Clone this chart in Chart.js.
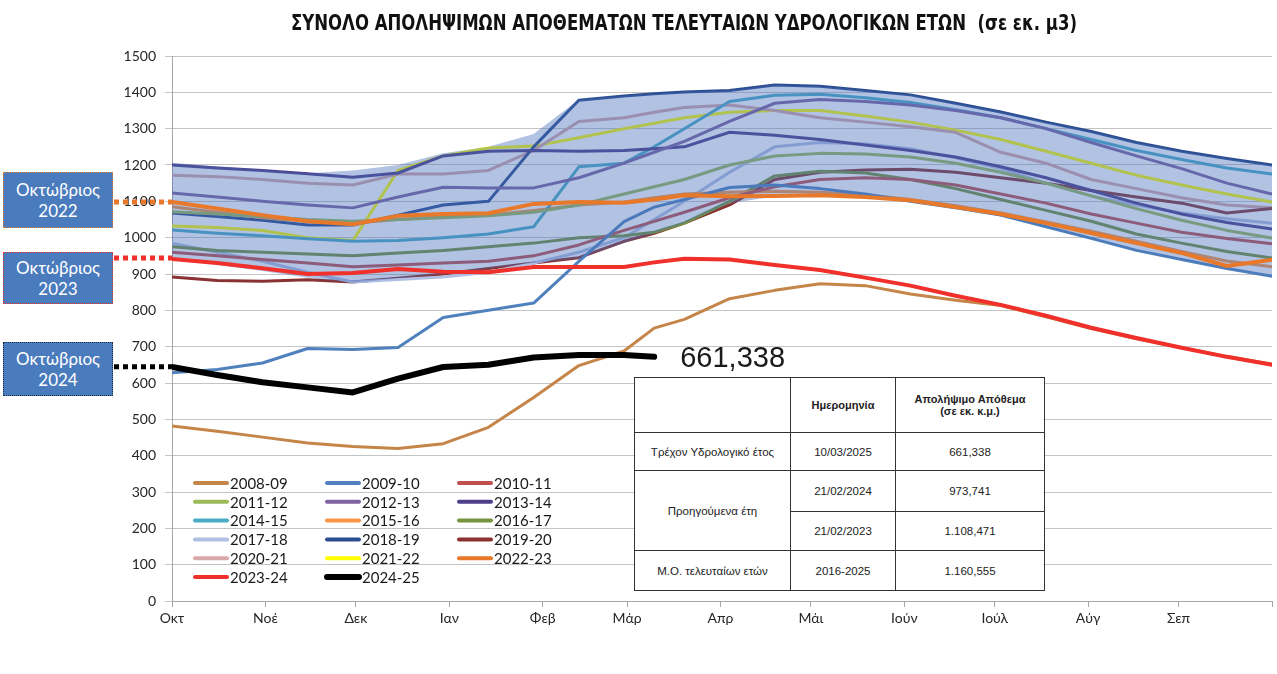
<!DOCTYPE html>
<html><head><meta charset="utf-8">
<script src="https://cdn.jsdelivr.net/npm/chart.js@4.4.1/dist/chart.umd.min.js"></script>
<style>
html,body{margin:0;padding:0;background:#fff;}
#wrap{position:relative;width:1277px;height:674px;overflow:hidden;background:#fff;}
#c{position:absolute;left:0;top:0;}
.box{position:absolute;left:3px;width:110px;background:#4a7bbd;color:#fff;font-family:Lato,'Open Sans',sans-serif;font-size:17px;line-height:21px;text-align:center;box-sizing:border-box;display:flex;align-items:center;justify-content:center;border:1px dotted;}
table.info{position:absolute;left:634px;top:377px;border-collapse:collapse;background:#fff;font-family:'Liberation Sans',Arial,sans-serif;font-size:11.5px;color:#222;table-layout:fixed;}
table.info td{border:1.5px solid #333;text-align:center;padding:0;vertical-align:middle;}
table.info td.h{font-weight:bold;font-size:11px;}
</style></head>
<body>
<div id="wrap">
<canvas id="c" width="1277" height="674"></canvas>
<div class="box" style="top:172px;height:56px;border-color:#e8782a;">Οκτώβριος<br>2022</div>
<div class="box" style="top:252px;height:52px;border-color:#f0302a;">Οκτώβριος<br>2023</div>
<div class="box" style="top:342px;height:54px;border-color:#1a2a4a;">Οκτώβριος<br>2024</div>
<table class="info" id="tbl"></table>
</div>
<script>
// ---------- DATA ----------
const DAYS = [0,15,30,45,60,75,90,105,120,135,150,160,170,185,200,215,230,245,260,275,290,305,320,335,350,365];
const MONTH_DAYS = [0,31,61,92,123,151,182,212,243,273,304,334,365];
const MONTH_LABELS = ['Οκτ','Νοέ','Δεκ','Ιαν','Φεβ','Μάρ','Απρ','Μάι','Ιούν','Ιούλ','Αύγ','Σεπ',''];

const s2008_09 = [482,467,451,435,425,420,433,478,560,648,688,751,775,832,855,873,868,845,828,813,782,750,722,697,673,652];
const s2009_10 = [628,637,655,695,692,698,780,800,820,935,1044,1084,1105,1138,1145,1135,1120,1100,1082,1062,1030,998,965,940,915,894];
const s2010_11 = [960,950,940,930,920,925,930,935,950,980,1020,1045,1070,1110,1140,1160,1165,1160,1145,1120,1095,1065,1040,1015,998,983];
const s2011_12 = [1071,1065,1058,1050,1045,1050,1055,1060,1070,1090,1120,1140,1160,1200,1225,1232,1230,1222,1205,1180,1150,1115,1080,1048,1020,999];
const s2012_13 = [1123,1112,1100,1090,1082,1112,1139,1137,1137,1165,1205,1235,1265,1320,1370,1380,1375,1365,1350,1330,1300,1262,1225,1190,1150,1120];
const s2013_14 = [1200,1192,1185,1176,1166,1178,1225,1238,1240,1238,1240,1245,1250,1290,1282,1270,1255,1240,1222,1195,1165,1130,1095,1065,1042,1024];
const s2014_15 = [1021,1012,1005,997,990,992,1000,1010,1030,1195,1205,1250,1300,1375,1392,1395,1385,1372,1352,1330,1300,1270,1240,1215,1192,1175];
const s2015_16 = [1085,1070,1055,1045,1040,1050,1058,1062,1075,1090,1098,1110,1120,1125,1128,1125,1118,1105,1088,1068,1043,1018,990,962,936,920];
const s2016_17 = [975,965,960,955,950,958,965,975,985,1000,1005,1015,1040,1100,1170,1183,1178,1160,1135,1105,1075,1045,1010,985,962,944];
const s2017_18 = [985,960,935,905,878,885,892,905,930,960,1000,1050,1100,1180,1250,1262,1258,1245,1220,1190,1150,1115,1090,1068,1052,1040];
const s2018_19 = [1068,1058,1048,1035,1035,1062,1090,1100,1250,1378,1390,1396,1401,1405,1420,1417,1405,1393,1370,1346,1318,1292,1262,1238,1218,1200];
const s2019_20 = [892,882,880,884,878,888,900,915,930,945,990,1012,1040,1090,1160,1180,1186,1188,1180,1165,1150,1130,1112,1095,1068,1080];
const s2020_21 = [1172,1168,1160,1150,1145,1175,1175,1185,1240,1320,1330,1345,1358,1365,1350,1330,1318,1305,1290,1235,1205,1160,1135,1110,1090,1082];
const s2021_22 = [1032,1028,1020,1000,992,1185,1225,1247,1252,1275,1300,1315,1330,1345,1350,1350,1335,1318,1296,1270,1238,1205,1172,1145,1120,1098];
const s2022_23 = [1098,1080,1062,1045,1037,1060,1065,1067,1093,1098,1096,1105,1117,1114,1115,1117,1112,1103,1084,1065,1040,1013,985,958,922,939];
const s2023_24 = [941,930,916,900,903,914,906,905,919,919,919,932,942,940,925,911,890,868,840,815,785,752,724,697,672,650];
const s2024_25 = [644,622,602,588,574,612,644,650,670,677,677,672,null,null,null,null,null,null,null,null,null,null,null,null,null,null];

const bandUpper = [1206,1196,1187,1177,1185,1200,1232,1250,1285,1380,1390,1396,1401,1405,1420,1417,1405,1393,1370,1346,1318,1292,1262,1238,1218,1200];
const bandLower = [941,925,908,890,876,888,900,915,930,943,985,1012,1040,1095,1113,1115,1110,1098,1082,1058,1030,997,965,940,915,894];

const octLabels = ['Οκτώβριος 2022','Οκτώβριος 2023','Οκτώβριος 2024'];
const octValues = [1098, 944, 645];

const currentValueLabel = '661,338';

const tblRowLabels = ['Τρέχον Υδρολογικό έτος','Προηγούμενα έτη','','Μ.Ο.  τελευταίων ετών'];
const tblDates = ['10/03/2025','21/02/2024','21/02/2023','2016-2025'];
const tblValues = ['661,338','973,741','1.108,471','1.160,555'];

// ---------- STYLES ----------
// [label, data, colour, width, draw order (lower = on top)]
const SERIES = [
  ['2008-09', s2008_09, '#c58548', 3, 4],
  ['2009-10', s2009_10, '#4f81bd', 3, 60],
  ['2010-11', s2010_11, '#c0504d', 3, 60],
  ['2011-12', s2011_12, '#9bbb59', 3, 60],
  ['2012-13', s2012_13, '#8064a2', 3, 60],
  ['2013-14', s2013_14, '#4f3f8a', 3, 60],
  ['2014-15', s2014_15, '#4bacc6', 3, 60],
  ['2015-16', s2015_16, '#f79646', 3, 60],
  ['2016-17', s2016_17, '#77933c', 3, 60],
  ['2017-18', s2017_18, '#b0c0e4', 3, 60],
  ['2018-19', s2018_19, '#2c4d8f', 3, 60],
  ['2019-20', s2019_20, '#8a3232', 3, 60],
  ['2020-21', s2020_21, '#d8a8a8', 3, 60],
  ['2021-22', s2021_22, '#ffff00', 3, 60],
  ['2022-23', s2022_23, '#e8782a', 4, 3],
  ['2023-24', s2023_24, '#f0302a', 4, 2],
  ['2024-25', s2024_25, '#000000', 6, 1]
];
const OCT_COLORS = ['#e8782a','#f0302a','#000000'];
const FONT = 'Lato, "Open Sans", sans-serif';

const toPts = arr => DAYS.map((d,i)=>({x:d,y:arr[i]}));

const datasets = [
  {label:'bandU', data:toPts(bandUpper), borderWidth:0, pointRadius:0, fill:'+1', backgroundColor:'rgba(70,110,185,0.42)', order:20},
  {label:'bandL', data:toPts(bandLower), borderWidth:0, pointRadius:0, fill:false, order:21}
];
SERIES.forEach(s=>{
  datasets.push({label:s[0], data:toPts(s[1]), borderColor:s[2], borderWidth:s[3], order:s[4], pointRadius:0, fill:false, tension:0, spanGaps:false, borderCapStyle:'round', borderJoinStyle:'round'});
});

// ---------- TABLE ----------
(function(){
  const t = document.getElementById('tbl');
  const W=[156,105,149];
  let h = '<colgroup>'+W.map(w=>'<col style="width:'+w+'px">').join('')+'</colgroup>';
  h += '<tr style="height:55px"><td></td><td class="h">Ημερομηνία</td><td class="h">Απολήψιμο Απόθεμα<br>(σε εκ. κ.μ.)</td></tr>';
  h += '<tr style="height:38px"><td>'+tblRowLabels[0]+'</td><td>'+tblDates[0]+'</td><td>'+tblValues[0]+'</td></tr>';
  h += '<tr style="height:41px"><td rowspan="2">'+tblRowLabels[1]+'</td><td>'+tblDates[1]+'</td><td>'+tblValues[1]+'</td></tr>';
  h += '<tr style="height:39px"><td>'+tblDates[2]+'</td><td>'+tblValues[2]+'</td></tr>';
  h += '<tr style="height:40px"><td>'+tblRowLabels[3]+'</td><td>'+tblDates[3]+'</td><td>'+tblValues[3]+'</td></tr>';
  t.innerHTML = h;
})();

// ---------- PLUGINS ----------
const decor = {
  id:'decor',
  afterDraw(chart){
    const ctx = chart.ctx, ys = chart.scales.y, ca = chart.chartArea;
    ctx.save();
    // title
    const title = 'ΣΥΝΟΛΟ ΑΠΟΛΗΨΙΜΩΝ ΑΠΟΘΕΜΑΤΩΝ ΤΕΛΕΥΤΑΙΩΝ ΥΔΡΟΛΟΓΙΚΩΝ ΕΤΩΝ  (σε εκ. μ3)';
    ctx.font = 'bold 22px "Liberation Sans Narrow", "DejaVu Sans Condensed", "Liberation Sans", sans-serif';
    const w = ctx.measureText(title).width;
    ctx.save();
    ctx.translate(291, 30);
    ctx.scale(786/w, 1);
    ctx.fillStyle = '#111';
    ctx.textBaseline = 'alphabetic';
    ctx.fillText(title, 0, 0);
    ctx.restore();
    // October dotted markers
    octValues.forEach((v,i)=>{
      const y = ys.getPixelForValue(v);
      ctx.strokeStyle = OCT_COLORS[i];
      ctx.lineWidth = 5;
      ctx.setLineDash([5,4]);
      ctx.beginPath(); ctx.moveTo(114, y); ctx.lineTo(ca.left, y); ctx.stroke();
    });
    ctx.setLineDash([]);
    // legend
    const LX=[193,325,457], LY0=483, LDY=18.8;
    ctx.font = '15px '+FONT;
    ctx.textBaseline = 'middle';
    SERIES.forEach((s,i)=>{
      const col=i%3, row=Math.floor(i/3);
      const x=LX[col], y=LY0+row*LDY;
      ctx.strokeStyle=s[2]; ctx.lineWidth = s[0]==='2024-25'?6:4; ctx.lineCap='round';
      ctx.beginPath(); ctx.moveTo(x+2,y); ctx.lineTo(x+34,y); ctx.stroke();
      ctx.fillStyle='#1a1a1a';
      ctx.fillText(s[0], x+37, y+1);
    });
    // current value label
    const meta = chart.getDatasetMeta(datasets.length-1);
    let last=null;
    meta.data.forEach((p,i)=>{ if (s2024_25[i]!==null) last=p; });
    if (last){
      ctx.font = '29px "Liberation Sans", Arial, sans-serif';
      ctx.fillStyle='#1a1a1a';
      ctx.textBaseline='alphabetic';
      ctx.fillText(currentValueLabel, last.x+26, last.y+10);
    }
    ctx.restore();
  }
};

new Chart(document.getElementById('c'), {
  type:'line',
  data:{datasets},
  options:{
    responsive:false, animation:false,
    layout:{padding:{top:56,right:5,left:0,bottom:0}},
    plugins:{legend:{display:false}, tooltip:{enabled:false}, title:{display:false}},
    elements:{point:{radius:0}},
    scales:{
      x:{type:'linear', min:0, max:365,
        afterBuildTicks:(s)=>{ s.ticks = MONTH_DAYS.map(v=>({value:v})); },
        ticks:{autoSkip:false, maxRotation:0, padding:3, color:'#262626', font:{family:FONT,size:14},
          callback:(v)=>{ const i=MONTH_DAYS.indexOf(v); return i>=0?MONTH_LABELS[i]:''; }},
        grid:{drawOnChartArea:false, drawTicks:true, tickLength:6, color:'#a6a6a6'},
        border:{color:'#a6a6a6', width:1},
        afterFit:(s)=>{ s.height = 73; }
      },
      y:{min:0, max:1500,
        ticks:{stepSize:100, padding:9, color:'#262626', font:{family:FONT,size:14},
          callback:(v)=>String(v)},
        grid:{color:'#c4c4c4', tickLength:7, lineWidth:1},
        border:{color:'#a6a6a6', width:1},
        afterFit:(s)=>{ s.width = 172; }
      }
    }
  },
  plugins:[decor]
});
</script>
</body></html>
